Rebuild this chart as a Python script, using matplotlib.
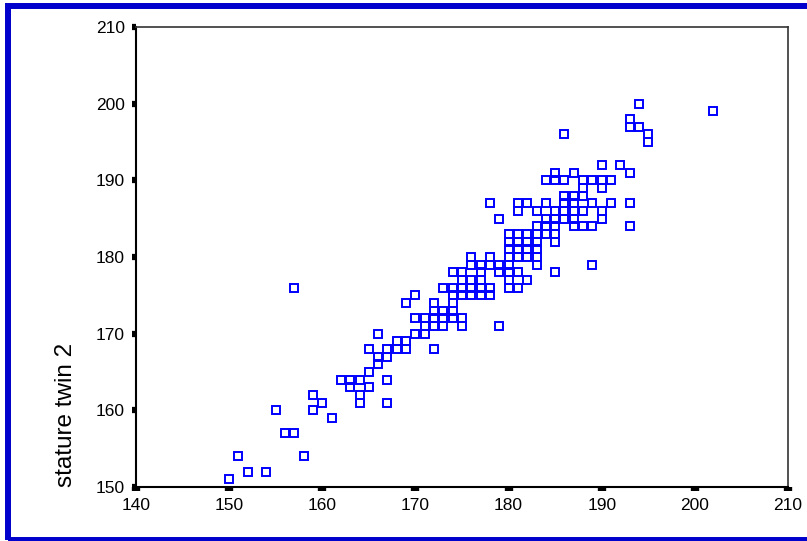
import numpy as np
import matplotlib
matplotlib.use("Agg")
import matplotlib.pyplot as plt
from matplotlib.patches import Rectangle

# -----------------------------------------
# Data
# stature of twin 1 -> list of stature of twin 2
# -----------------------------------------
twin1_groups = [150, 151, 152, 154, 155, 156, 157, 158, 159, 160,
                161, 162, 163, 164, 165, 166, 167, 168, 169, 170,
                171, 172, 173, 174, 175, 176, 177, 178, 179, 180,
                181, 182, 183, 184, 185, 186, 187, 188, 189, 190,
                191, 192, 193, 194, 195, 202]
twin2_groups = [
    [151], [154], [152], [152], [160], [157], [157, 176], [154], [162, 160], [161],
    [159], [164], [164, 163], [164, 162, 161], [163, 165, 168], [166, 167, 170],
    [164, 167, 168, 161], [168, 169], [168, 169, 174], [175, 172, 170],
    [170, 171, 172], [174, 173, 172, 171, 168], [173, 172, 171, 176],
    [173, 174, 175, 172, 176, 178], [178, 177, 176, 175, 172, 171],
    [180, 179, 177, 176, 175], [179, 178, 177, 176, 175],
    [180, 179, 176, 175, 187], [185, 179, 178, 171],
    [183, 182, 181, 180, 179, 178, 177, 176],
    [187, 186, 183, 182, 181, 180, 178, 176],
    [187, 183, 182, 181, 180, 177],
    [186, 184, 183, 182, 181, 180, 179],
    [187, 185, 184, 183, 190],
    [191, 190, 186, 185, 184, 183, 182, 178],
    [190, 196, 188, 187, 186, 185],
    [191, 188, 187, 186, 185, 184],
    [190, 189, 188, 186, 184],
    [190, 187, 184, 179],
    [192, 190, 189, 186, 185],
    [190, 187], [192], [191, 187, 184, 198, 197], [200, 197], [196, 195], [199],
]

stature_twin1 = np.concatenate([[x] * len(ys) for x, ys in zip(twin1_groups, twin2_groups)])
stature_twin2 = np.concatenate(twin2_groups)

x_ticks = [140, 150, 160, 170, 180, 190, 200, 210]
y_ticks = [150, 160, 170, 180, 190, 200, 210]

# -----------------------------------------
# Figure
# -----------------------------------------
plt.rcParams["font.family"] = ["Liberation Sans", "DejaVu Sans"]

W, H = 807, 541
fig = plt.figure(figsize=(W / 100, H / 100), dpi=100)
ax = fig.add_axes([136 / W, 1 - 487 / H, 652 / W, 460 / H])

ax.plot(stature_twin1, stature_twin2, linestyle="none", marker="s",
        markersize=5.3, markerfacecolor="none", markeredgecolor="#0000FF",
        markeredgewidth=1.4, clip_on=False)

ax.set_xlim(140, 210)
ax.set_ylim(150, 210)
ax.set_xticks(x_ticks)
ax.set_yticks(y_ticks)

for side in ["left", "bottom"]:
    ax.spines[side].set_linewidth(1.5)
    ax.spines[side].set_color("black")
for side in ["top", "right"]:
    ax.spines[side].set_linewidth(1.2)
    ax.spines[side].set_color("#333333")

ax.tick_params(axis="y", direction="out", length=3, width=4.5, pad=5,
               labelsize=12.5, colors="black")
ax.tick_params(axis="x", direction="out", length=3, width=6, pad=5,
               labelsize=12.5, colors="black")

fig.text(66 / W, 1 - 415 / H, "stature twin 2", rotation=90,
         ha="center", va="center", fontsize=17.5)

# blue frame around the whole chart
frame = Rectangle((8 / W, 1 - 540 / H), 830 / W, 534 / H, transform=fig.transFigure,
                  fill=False, edgecolor="#0000CC", linewidth=4.3, clip_on=False)
fig.patches.append(frame)

fig.savefig("out.png", dpi=100, facecolor="white")
